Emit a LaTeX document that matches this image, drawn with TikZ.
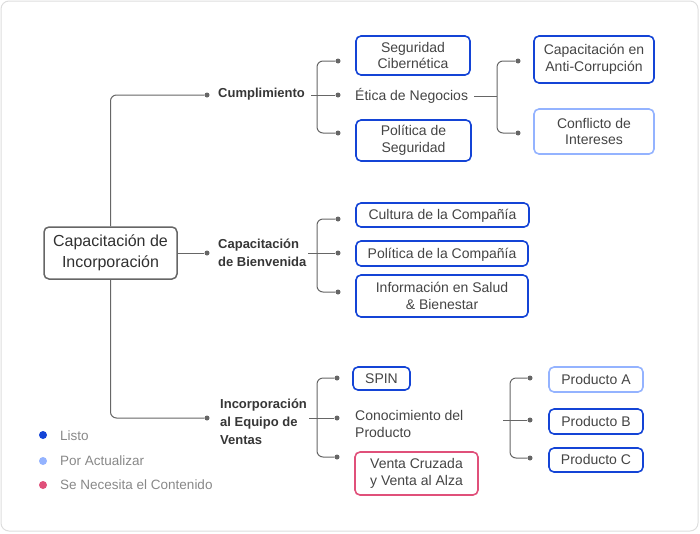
\documentclass[tikz,border=0pt]{standalone}
\usepackage{fontspec}
\setmainfont{Liberation Sans}
\definecolor{dkblue}{HTML}{1444D6}
\definecolor{ltblue}{HTML}{94B3FF}
\definecolor{rd}{HTML}{E0507A}
\definecolor{txt}{HTML}{444444}
\definecolor{lgtxt}{HTML}{888888}
\definecolor{ln}{HTML}{666666}
\definecolor{frame}{HTML}{DDDDDD}
\tikzset{
  conn/.style={draw=ln, line width=1pt, rounded corners=6pt},
  dot/.style={circle, fill=ln, inner sep=0pt, minimum size=5pt},
  bx/.style={draw=dkblue, line width=1.6pt, rounded corners=5pt, align=center, text=txt, font=\fontsize{14}{16.5}\selectfont, inner sep=0pt},
  ltbx/.style={bx, draw=ltblue},
  rdbx/.style={bx, draw=rd},
  one/.style={text height=11pt, text depth=2pt},
  plain/.style={align=left, text=txt, font=\fontsize{14}{16.5}\selectfont, inner sep=0pt},
  lvl/.style={align=left, text=txt!80!black, font=\bfseries\fontsize{13}{18}\selectfont, inner sep=0pt},
  legdot/.style={circle, inner sep=0pt, minimum size=8pt},
  legtxt/.style={anchor=west, text=lgtxt, font=\fontsize{13.5}{16}\selectfont, inner sep=0pt},
}
\begin{document}
\begin{tikzpicture}[x=1pt, y=-1pt]
\useasboundingbox (0,0) rectangle (700,533);
\draw[frame, line width=1pt, rounded corners=8pt] (1,1) rectangle (698,531);

% root
\node[draw=ln, line width=1.5pt, rounded corners=5pt, minimum width=133pt, minimum height=52pt, align=center, text=txt!70!black, font=\fontsize{16}{21}\selectfont, inner sep=0pt] (root) at (110.5,253) {Capacitación de\\Incorporación};

% level 1 dots
\node[dot] (d1) at (207,95) {};
\node[dot] (d2) at (207,253) {};
\node[dot] (d3) at (207,418) {};
\draw[conn] (root.north) |- (d1);
\draw[conn] (root.east) -- (d2);
\draw[conn] (root.south) |- (d3);

% level 1 labels
\node[lvl, anchor=west] (cum) at (218,94) {Cumplimiento};
\node[lvl, anchor=west] (bien) at (218,253) {Capacitación\\de Bienvenida};
\node[lvl, anchor=west] (ven) at (220,422) {Incorporación\\al Equipo de\\Ventas};

% Cumplimiento branch
\node[dot] (c1) at (338,61) {};
\node[dot] (c2) at (338,95) {};
\node[dot] (c3) at (338,133) {};
\coordinate (cb) at (317,95);
\coordinate (cs) at (311,95);
\draw[conn] (cs) -- (c2);
\draw[conn] (c1) -| (cb) |- (c3);

\node[bx, minimum width=114pt, minimum height=39pt] (seg) at (413,55.5) {Seguridad\\Cibernética};
\node[plain, anchor=west] (eti) at (355,96) {Ética de Negocios};
\node[bx, minimum width=115pt, minimum height=41pt] (pol) at (413.5,140.5) {Política de\\Seguridad};

% Etica branch
\node[dot] (e1) at (518,61) {};
\node[dot] (e2) at (518,133) {};
\coordinate (eb) at (497,96);
\coordinate (es) at (474,96);
\draw[conn] (es) -- (eb);
\draw[conn] (e1) -| (eb) |- (e2);
\node[bx, minimum width=120pt, minimum height=47pt] (anti) at (594,59.5) {Capacitación en\\Anti-Corrupción};
\node[ltbx, minimum width=120pt, minimum height=45pt] (conf) at (594,131.5) {Conflicto de\\Intereses};

% Bienvenida branch
\node[dot] (b1) at (338,219) {};
\node[dot] (b2) at (338,253) {};
\node[dot] (b3) at (338,292) {};
\coordinate (bb) at (317,253);
\coordinate (bs) at (308,253);
\draw[conn] (bs) -- (b2);
\draw[conn] (b1) -| (bb) |- (b3);
\node[bx, one, minimum width=173pt, minimum height=24pt] (cul) at (442.5,215) {Cultura de la Compañía};
\node[bx, one, minimum width=172pt, minimum height=25pt] (polc) at (442,253.5) {Política de la Compañía};
\node[bx, minimum width=172pt, minimum height=42pt] (sal) at (442,296) {Información en Salud\\\& Bienestar};

% Ventas branch
\node[dot] (v1) at (337,378) {};
\node[dot] (v2) at (337,418) {};
\node[dot] (v3) at (337,457) {};
\coordinate (vb) at (317,418);
\coordinate (vs) at (309,418);
\draw[conn] (vs) -- (v2);
\draw[conn] (v1) -| (vb) |- (v3);
\node[bx, one, minimum width=57pt, minimum height=23pt] (spin) at (381.5,378.5) {SPIN};
\node[plain, anchor=west] (con) at (355,424) {Conocimiento del\\Producto};
\node[rdbx, minimum width=123pt, minimum height=43pt] (vcz) at (416.5,473.5) {Venta Cruzada\\y Venta al Alza};

% Conocimiento branch
\node[dot] (p1) at (530,378) {};
\node[dot] (p2) at (530,420) {};
\node[dot] (p3) at (530,458) {};
\coordinate (pb) at (510,420);
\coordinate (ps) at (503,420);
\draw[conn] (ps) -- (p2);
\draw[conn] (p1) -| (pb) |- (p3);
\node[ltbx, one, minimum width=94pt, minimum height=25pt] (pa) at (596,379.5) {Producto A};
\node[bx, one, minimum width=94pt, minimum height=25pt] (pbx) at (596,421.5) {Producto B};
\node[bx, one, minimum width=94pt, minimum height=24pt] (pc) at (596,460) {Producto C};

% legend
\node[legdot, fill=dkblue] (l1) at (43,435) {};
\node[legdot, fill=ltblue] (l2) at (43,461) {};
\node[legdot, fill=rd] (l3) at (43,485) {};
\node[legtxt] (lt1) at (60,436) {Listo};
\node[legtxt] (lt2) at (60,461) {Por Actualizar};
\node[legtxt] (lt3) at (60,485) {Se Necesita el Contenido};
\end{tikzpicture}
\end{document}
